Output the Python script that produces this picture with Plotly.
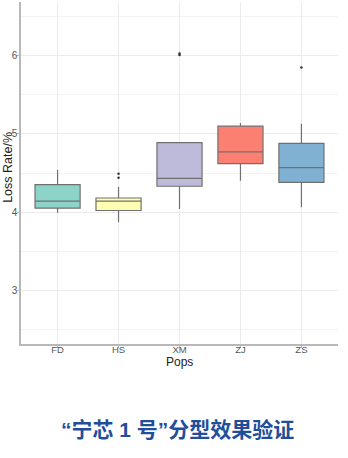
import plotly.graph_objects as go

pops = ["FD", "HS", "XM", "ZJ", "ZS"]
colors = ["#8DD3C7", "#FFFFB3", "#BEBADA", "#FB8072", "#80B1D3"]
q1 = [4.05, 4.02, 4.33, 4.62, 4.38]
median = [4.14, 4.14, 4.43, 4.77, 4.57]
q3 = [4.35, 4.18, 4.89, 5.10, 4.88]
lower = [3.99, 3.87, 4.04, 4.40, 4.06]
upper = [4.54, 4.32, 4.89, 5.14, 5.13]
out_pop = ["HS", "HS", "XM", "XM", "ZS"]
out_val = [4.49, 4.44, 6.01, 6.03, 5.85]

fig = go.Figure()
for i, p in enumerate(pops):
    fig.add_trace(go.Box(
        x=[p], q1=[q1[i]], median=[median[i]], q3=[q3[i]],
        lowerfence=[lower[i]], upperfence=[upper[i]],
        fillcolor=colors[i], line=dict(color="#707070", width=1.2),
        width=0.74, whiskerwidth=0, boxpoints=False, showlegend=False,
        hoverinfo="skip"))
fig.add_trace(go.Scatter(x=out_pop, y=out_val, mode="markers",
                         marker=dict(color="#333333", size=2.5),
                         showlegend=False))

fig.update_layout(
    width=348, height=458,
    margin=dict(l=21, r=10, t=2, b=114),
    paper_bgcolor="white", plot_bgcolor="white",
    font=dict(family="Liberation Sans, Arial, sans-serif"),
    xaxis=dict(range=[-0.6, 4.6], categoryorder="array", categoryarray=pops,
               showgrid=True, gridcolor="#ebebeb", gridwidth=1,
               showline=True, linecolor="#b8b8b8", linewidth=1.5,
               ticks="outside", ticklen=2, tickcolor="#b8b8b8",
               ticklabelstandoff=-6,
               tickfont=dict(size=9.5, color="#555555"), zeroline=False),
    yaxis=dict(range=[2.31, 6.69], tickvals=[3, 4, 5, 6],
               showgrid=True, gridcolor="#ebebeb", gridwidth=1,
               minor=dict(tickvals=[2.5, 3.5, 4.5, 5.5, 6.5], showgrid=True,
                          gridcolor="#f3f3f3", gridwidth=1),
               showline=True, linecolor="#b8b8b8", linewidth=1.5,
               ticks="outside", ticklen=2, tickcolor="#b8b8b8",
               ticklabelstandoff=-2,
               tickfont=dict(size=10, color="#555555"), zeroline=False),
)
fig.add_annotation(text="Pops", xref="paper", yref="paper", x=0.5, y=-0.054,
                   showarrow=False, yanchor="middle",
                   font=dict(size=12, color="#222222"))
fig.add_annotation(text="Loss Rate/%", xref="paper", yref="paper", x=-0.041,
                   y=0.515, showarrow=False, textangle=-90,
                   xanchor="center", yanchor="middle",
                   font=dict(size=12.5, color="#222222"))
fig.add_annotation(text="<b>“宁芯 1 号”分型效果验证</b>", xref="paper", yref="paper",
                   x=0.494, y=-0.251, showarrow=False, yanchor="middle",
                   font=dict(size=21, color="#1F4E9A",
                             family="Liberation Sans, Noto Sans CJK SC"))
fig.write_html("out.html")
